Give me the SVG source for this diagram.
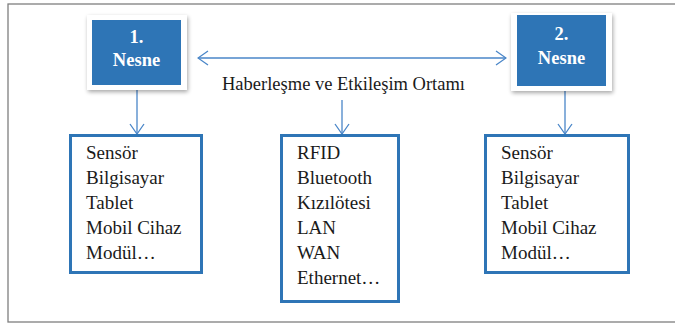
<svg xmlns="http://www.w3.org/2000/svg" width="675" height="324" viewBox="0 0 675 324">
<style>
.frame{fill:none;stroke:#7f7f7f;stroke-width:1.3}
.card{fill:#ffffff;filter:url(#sh)}
.head{fill:#2e75b6}
.ht{font-family:"Liberation Serif",serif;font-weight:bold;font-size:18.5px;fill:#ffffff;text-anchor:middle}
.box{fill:#ffffff;stroke:#2e75b6;stroke-width:3}
.lt{font-family:"Liberation Serif",serif;font-size:19px;fill:#1a1a1a}
.lbl{font-family:"Liberation Serif",serif;font-size:18.5px;fill:#1a1a1a}
.con{fill:none;stroke:#4a86c8;stroke-width:1.3}
</style>
<defs>
<filter id="sh" x="-20%" y="-20%" width="140%" height="140%">
<feGaussianBlur in="SourceAlpha" stdDeviation="2"/>
<feOffset dx="1" dy="2"/>
<feComponentTransfer><feFuncA type="linear" slope="0.35"/></feComponentTransfer>
<feMerge><feMergeNode/><feMergeNode in="SourceGraphic"/></feMerge>
</filter>
<marker id="ar" viewBox="0 0 12 16" refX="11" refY="8" markerWidth="12" markerHeight="16" markerUnits="userSpaceOnUse" orient="auto-start-reverse">
<path d="M1 1 L11 8 L1 15" fill="none" stroke="#4a86c8" stroke-width="1.3"/>
</marker>
</defs>
<rect x="0" y="0" width="675" height="324" fill="#ffffff"/>
<rect class="frame" x="8" y="4" width="690" height="318"/>

<g id="connectors">
<line class="con" x1="198" y1="58" x2="506" y2="58" marker-start="url(#ar)" marker-end="url(#ar)"/>
<line class="con" x1="137" y1="90" x2="137" y2="134" marker-end="url(#ar)"/>
<line class="con" x1="342" y1="100" x2="342" y2="134" marker-end="url(#ar)"/>
<line class="con" x1="565" y1="91" x2="565" y2="134" marker-end="url(#ar)"/>
</g>

<g id="node1">
<rect class="card" x="87" y="15" width="100" height="75"/>
<rect class="head" x="92" y="20" width="89" height="65"/>
<text class="ht" x="136.5" y="43">1.</text>
<text class="ht" x="136.5" y="66">Nesne</text>
</g>

<g id="node2">
<rect class="card" x="511" y="13" width="101" height="78"/>
<rect class="head" x="517" y="15" width="89" height="71"/>
<text class="ht" x="561.5" y="40">2.</text>
<text class="ht" x="561.5" y="64">Nesne</text>
</g>

<g id="label">
<text class="lbl" x="222" y="90">Haberleşme ve Etkileşim Ortamı</text>
</g>

<g id="list1">
<rect class="box" x="70.5" y="135.5" width="131" height="137"/>
<text class="lt" x="86" y="159">Sensör</text>
<text class="lt" x="86" y="184">Bilgisayar</text>
<text class="lt" x="86" y="209">Tablet</text>
<text class="lt" x="86" y="234">Mobil Cihaz</text>
<text class="lt" x="86" y="259">Modül…</text>
</g>

<g id="list2">
<rect class="box" x="281.5" y="135.5" width="117" height="166"/>
<text class="lt" x="297" y="159">RFID</text>
<text class="lt" x="297" y="184">Bluetooth</text>
<text class="lt" x="297" y="209">Kızılötesi</text>
<text class="lt" x="297" y="234">LAN</text>
<text class="lt" x="297" y="259">WAN</text>
<text class="lt" x="297" y="284">Ethernet…</text>
</g>

<g id="list3">
<rect class="box" x="485.5" y="135.5" width="143" height="137"/>
<text class="lt" x="501" y="159">Sensör</text>
<text class="lt" x="501" y="184">Bilgisayar</text>
<text class="lt" x="501" y="209">Tablet</text>
<text class="lt" x="501" y="234">Mobil Cihaz</text>
<text class="lt" x="501" y="259">Modül…</text>
</g>
</svg>
